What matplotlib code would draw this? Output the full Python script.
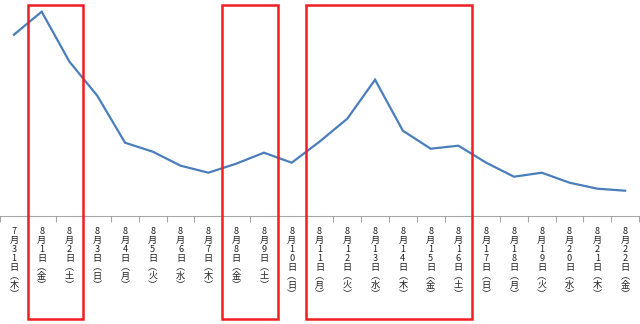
import matplotlib
matplotlib.use("Agg")
import matplotlib.pyplot as plt
from matplotlib.patches import Rectangle
from matplotlib.transforms import blended_transform_factory

plt.rcParams['font.family'] = ['Noto Sans CJK JP', 'DejaVu Sans']

months = [7] + [8] * 22
days = [31] + list(range(1, 23))
weekdays = ['木', '金', '土', '日', '月', '火', '水', '木', '金', '土', '日',
            '月', '火', '水', '木', '金', '土', '日', '月', '火', '水', '木', '金']
values = [181, 204, 154, 120, 73, 64, 50, 43, 52, 63, 53, 74, 97, 136,
          85, 67, 70, 53, 39, 43, 33, 27, 25]
# highlighted category ranges (start index, end index)
highlights = [(1, 2), (8, 9), (11, 16)]

def vlabel(m, d, w):
    chars = list(str(m)) + ['月'] + list(str(d)) + ['日', '︵', w, '︶']
    return "\n".join(chars)

labels = [vlabel(m, d, w) for m, d, w in zip(months, days, weekdays)]

fig = plt.figure(figsize=(6.4, 3.24), dpi=100)
axh = 215.7 / 324
ax = fig.add_axes([0, 1 - axh, 639 / 640, axh])
x = list(range(len(values)))
ax.plot(x, values, color='#4a7ebb', lw=1.6, solid_joinstyle='miter')
ax.set_xlim(-0.5, len(values) - 0.5)
ax.set_ylim(0, 215.7)
for s in ['top', 'left', 'right']:
    ax.spines[s].set_visible(False)
ax.spines['bottom'].set_color('#a6a6a6')
ax.set_yticks([])
ax.set_xticks(x)
ax.set_xticklabels(labels, fontsize=6.6, linespacing=1.0, va='top', color='#222222')
ax.tick_params(axis='x', which='major', length=0, pad=8)
ax.set_xticks([i + 0.5 for i in range(-1, len(values))], minor=True)
ax.tick_params(axis='x', which='minor', length=4, color='#a6a6a6', width=0.8)

tr = blended_transform_factory(ax.transData, ax.transAxes)
top = (215.7 - 5) / 215.7
bot = (215.7 - 319) / 215.7
for a, b in highlights:
    r = Rectangle((a - 0.5, bot), (b - a + 1), top - bot, transform=tr,
                  fill=False, edgecolor='#f01e23', lw=1.8, clip_on=False, zorder=5)
    ax.add_patch(r)

fig.savefig('out.png', dpi=100)
